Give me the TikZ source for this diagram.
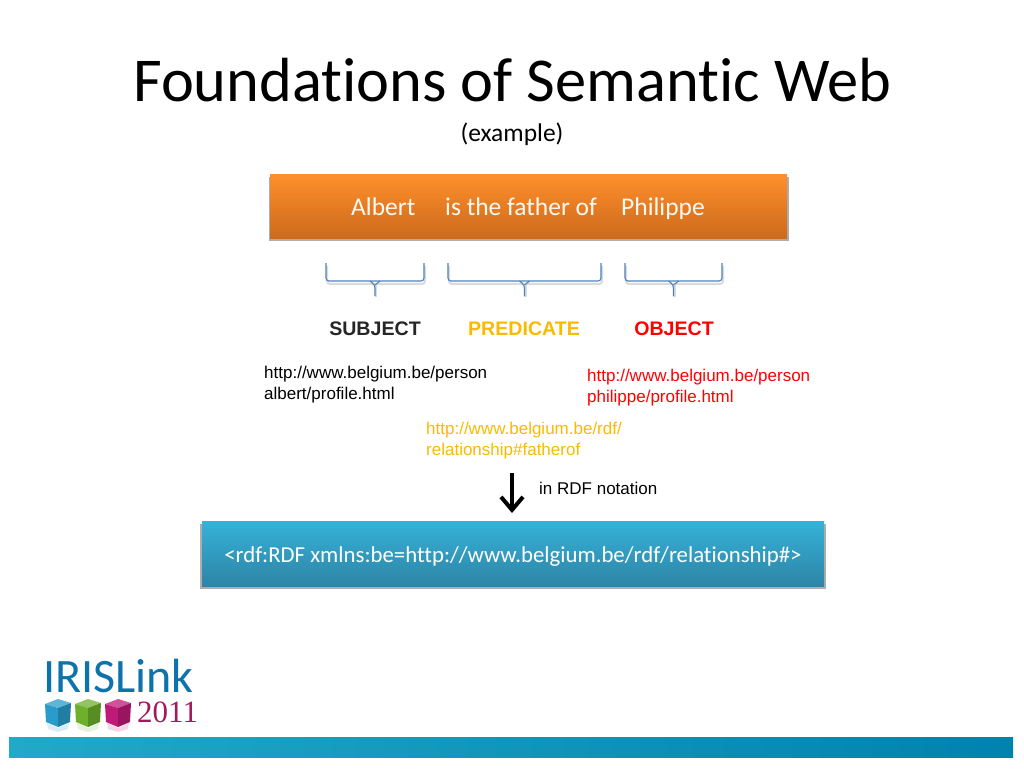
\documentclass[tikz,border=0pt]{standalone}
\usepackage{fontspec}
\setmainfont[Ligatures=NoCommon]{Carlito}
\newfontfamily\arialfont{Liberation Sans}
\newfontfamily\yearfont{Liberation Serif}
\usetikzlibrary{positioning,arrows.meta,shadows}
\definecolor{barleft}{HTML}{22A9C8}
\definecolor{barright}{HTML}{0082AE}
\definecolor{bracecol}{HTML}{4F81BD}
\definecolor{predcol}{HTML}{FBBA00}
\definecolor{logoblue}{HTML}{0E72AC}
\definecolor{logopurple}{HTML}{A3195B}
\definecolor{orangetop}{HTML}{FF8F2B}
\definecolor{orangelow}{HTML}{CC6A1C}
\definecolor{rdftop}{HTML}{35B2D8}
\definecolor{rdflow}{HTML}{2E84A6}
\definecolor{cubea}{HTML}{2A9CCB}
\definecolor{cubeb}{HTML}{6DB02C}
\definecolor{cubec}{HTML}{C01A78}

\begin{document}
\begin{tikzpicture}[
  x=1pt, y=-1pt,
  banner/.style={
    inner sep=0pt,
    drop shadow={shadow xshift=0pt, shadow yshift=-3pt, shadow scale=1.006, fill=black!70, opacity=.45}
  },
  bannertext/.style={anchor=base west, inner sep=0pt, text=white!95!orange, font=\fontsize{25.5}{28}\selectfont},
  role/.style={anchor=base, inner sep=0pt, font=\arialfont\bfseries\fontsize{19.6}{21}\selectfont},
  uri/.style={anchor=north west, inner sep=0pt, align=left, font=\arialfont\fontsize{17}{21}\selectfont},
  bracket/.style={bracecol, line width=1.1pt, rounded corners=3pt},
  bracketshade/.style={black!14, line width=2.2pt, rounded corners=3pt}
]
\useasboundingbox (0,0) rectangle (1024,768);

% --- Title ---
\node[anchor=base west, inner sep=0pt, font=\fontsize{62.4}{70}\selectfont] (title) at (133,101) {Foundations of Semantic Web};
\node[anchor=base, inner sep=0pt, font=\fontsize{25.5}{28}\selectfont] (subtitle) at (512,141) {(example)};

% --- Sentence ---
\node[banner, minimum width=517pt, minimum height=64pt, top color=orangetop, bottom color=orangelow,
  anchor=north west] (sentence) at (270,174) {};
\node[bannertext] (albert) at (351,215) {Albert};
\node[bannertext] (father) at (445,215) {is the father of};
\node[bannertext] (philippe) at (621,215) {Philippe};

% --- Braces ---
\foreach \l/\r [count=\i] in {326/424,448/601,625/722} {
  \pgfmathsetmacro{\m}{(\l+\r)/2}
  \coordinate (bl\i) at (\l,263);
  \coordinate (br\i) at (\r,263);
  \coordinate (bm\i) at (\m,296);
  \draw[bracketshade] (\l+1,266) |- (\r+1,284) -- (\r+1,266);
  \draw[bracketshade] (\m+1,285) -- (\m+1,297);
  \draw[bracket] (bl\i) |- (\r,281) -- (br\i);
  \draw[bracket] (\m-5,281) -- (\m,285) -- (bm\i);
  \draw[bracket] (\m+5,281) -- (\m,285);
}

% --- Roles ---
\node[role, text=black!85] (subject) at (375,335) {SUBJECT};
\node[role, text=predcol] (predicate) at (524,335) {PREDICATE};
\node[role, text=red] (object) at (674,335) {OBJECT};

% --- URIs ---
\node[uri] (uria) at (264,366) {http://www.belgium.be/person\\albert/profile.html};
\node[uri, text=red] (urib) at (587,369) {http://www.belgium.be/person\\philippe/profile.html};
\node[uri, text=predcol] (uric) at (426,422) {http://www.belgium.be/rdf/\\relationship\#fatherof};

% --- Notation ---
\coordinate (arrowtop) at (512,473);
\coordinate (arrowend) at (512,513);
\draw[-{Straight Barb[length=13pt,width=22pt,line width=4pt]}, line width=4.2pt] (arrowtop) -- (arrowend);
\node[anchor=base west, inner sep=0pt, font=\arialfont\fontsize{17}{19}\selectfont] (notation) at (539,494) {in RDF notation};

\node[banner, minimum width=622pt, minimum height=65pt, top color=rdftop, bottom color=rdflow,
  anchor=north west] (rdfbox) at (202,521) {};
\node[anchor=base, inner sep=0pt, text=white, font=\fontsize{22.8}{26}\selectfont] (rdftext) at (513,562) {<rdf:RDF xmlns:be=http://www.belgium.be/rdf/relationship\#>};

% --- Logo ---
\node[anchor=base west, inner sep=0pt, text=logoblue, font=\fontsize{48}{50}\selectfont] (iris) at (43,692) {IRISLink};
\node[anchor=base west, inner sep=0pt, text=logopurple, font=\yearfont\fontsize{31}{34}\selectfont] (year) at (137,722) {2011};

\foreach \x/\c in {45/cubea,75/cubeb,105/cubec} {
  \fill[\c!18!white] (\x+2,723) -- (\x+13,728) -- (\x+24,723) -- (\x+23,729) -- (\x+13,732) -- (\x+3,729) -- cycle;
  \fill[\c!75!white] (\x,704) -- (\x+13,699) -- (\x+26,703) -- (\x+13,708) -- cycle;
  \fill[\c] (\x,704) -- (\x+13,708) -- (\x+13,727) -- (\x+1,722) -- cycle;
  \fill[\c!80!black] (\x+13,708) -- (\x+26,703) -- (\x+25,722) -- (\x+13,727) -- cycle;
}

% --- Footer ---
\fill[left color=barleft, right color=barright] (9,737) rectangle (1013,757);

\end{tikzpicture}
\end{document}
